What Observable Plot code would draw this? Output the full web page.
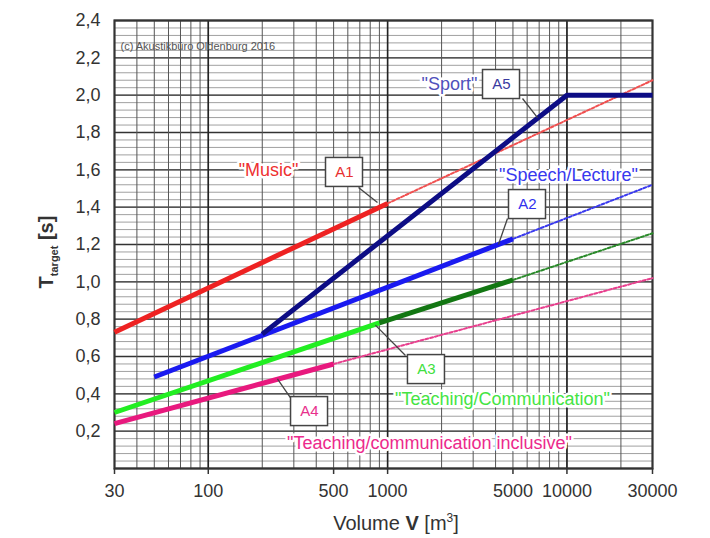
<!DOCTYPE html>
<html>
<head>
<meta charset="utf-8">
<script src="https://cdn.jsdelivr.net/npm/d3@7"></script>
<script src="https://cdn.jsdelivr.net/npm/@observablehq/plot@0.6"></script>
<style>
  body { margin: 0; background: #fff; }
  #chart { width: 710px; height: 538px; }
</style>
</head>
<body>
<div id="chart"></div>
<script>
// ---- data ----
const xTicks = [30, 100, 500, 1000, 5000, 10000, 30000];
const yTicks = [0.2, 0.4, 0.6, 0.8, 1.0, 1.2, 1.4, 1.6, 1.8, 2.0, 2.2, 2.4];

// solid segments (volume, T)
const a1Vol = [30, 1000];          const a1T = [0.73, 1.42];
const a2Vol = [50, 5000];          const a2T = [0.49, 1.23];
const a3aVol = [30, 900];          const a3aT = [0.30, 0.78];
const a3bVol = [900, 5000];        const a3bT = [0.78, 1.01];
const a4Vol = [30, 500];           const a4T = [0.24, 0.56];
const a5Vol = [200, 10000, 30000]; const a5T = [0.72, 2.0, 2.0];
// dotted extensions
const a1xVol = [1000, 30000]; const a1xT = [1.42, 2.08];
const a2xVol = [5000, 30000]; const a2xT = [1.23, 1.52];
const a3xVol = [5000, 30000]; const a3xT = [1.01, 1.26];
const a4xVol = [500, 30000];  const a4xT = [0.56, 1.02];

const zip = (v, t) => v.map((d, i) => ({V: d, T: t[i]}));

// grid
const vGrid = [];
for (const dec of [10, 100, 1000, 10000]) for (let k = 1; k <= 9; k++) { const v = k * dec; if (v >= 30 && v <= 30000) vGrid.push(v); }
const vMajor = [100, 1000, 10000];
const hMinor = d3.range(0, 2.4001, 0.04);
const hMajor = d3.range(0, 2.4001, 0.2);

// geometry helpers for annotation boxes (same scales as the plot)
const W = 710, H = 538, ML = 114, MR = 58, MT = 20, MB = 70;
const xs = d3.scaleLog([30, 30000], [ML, W - MR]);
const ys = d3.scaleLinear([0, 2.4], [H - MB, MT]);
function box(V, T, w = 37, h = 29) {
  const cx = xs(V), cy = ys(T);
  return {x1: xs.invert(cx - w / 2), x2: xs.invert(cx + w / 2), y1: ys.invert(cy + h / 2), y2: ys.invert(cy - h / 2)};
}

const boxes = [
  {label: "A1", V: 575, T: 1.586, color: "#e83030"},
  {label: "A5", V: 4317, T: 2.057, color: "#3a3aa0"},
  {label: "A2", V: 6027, T: 1.414, color: "#3030ee"},
  {label: "A3", V: 1647, T: 0.53, color: "#40e040"},
  {label: "A4", V: 367, T: 0.305, color: "#e8308c"}
].map(d => ({...d, ...box(d.V, d.T)}));

const leaders = [
  {V1: 688, T1: 1.505, V2: 878, T2: 1.425},
  {V1: 5652, T1: 1.982, V2: 6852, T2: 1.88},
  {V1: 4662, T1: 1.339, V2: 4150, T2: 1.2},
  {V1: 1258, T1: 0.605, V2: 855, T2: 0.768},
  {V1: 287, T1: 0.38, V2: 243, T2: 0.48}
];

const names = [
  {text: "\"Music\"", V: 217, T: 1.596, color: "#ee3030"},
  {text: "\"Sport\"", V: 2214, T: 2.057, color: "#5050bb"},
  {text: "\"Speech/Lecture\"", V: 10200, T: 1.57, color: "#3838ee"},
  {text: "\"Teaching/Communication\"", V: 4372, T: 0.37, color: "#44e444"},
  {text: "\"Teaching/communication inclusive\"", V: 1712, T: 0.134, color: "#ec2a8c"}
];

const solid = (v, t, color) => Plot.line(zip(v, t), {x: "V", y: "T", stroke: color, strokeWidth: 5, strokeLinecap: "butt"});
const dotted = (v, t, color) => Plot.line(zip(v, t), {x: "V", y: "T", stroke: color, strokeWidth: 2, strokeDasharray: "3,2"});

const plot = Plot.plot({
  width: W, height: H,
  marginLeft: ML, marginRight: MR, marginTop: MT, marginBottom: MB,
  style: {fontFamily: "'Liberation Sans', Arial, sans-serif", fontSize: "18px", color: "#333", background: "#fff"},
  x: {type: "log", domain: [30, 30000], axis: null},
  y: {domain: [0, 2.4]},
  marks: [
    Plot.ruleY(hMinor, {stroke: "#a0a0a0", strokeWidth: 1}),
    Plot.ruleY(hMajor, {stroke: "#333", strokeWidth: 1.3}),
    Plot.ruleX(vGrid, {stroke: "#555", strokeWidth: 1}),
    Plot.ruleX(vMajor, {stroke: "#222", strokeWidth: 1.6}),
    Plot.frame({stroke: "#333", strokeWidth: 2.2}),
    // x ticks and labels
    Plot.ruleX(xTicks, {x: d => d, y1: 0, y2: 0, insetBottom: -6, stroke: "#333", strokeWidth: 1.5}),
    Plot.text(xTicks, {x: d => d, y: 0, dy: 23, text: d => String(d), fontSize: 18, fill: "#333"}),
    Plot.axisY(yTicks, {anchor: "left", tickFormat: d => d.toFixed(1).replace(".", ","), label: null, tickSize: 0, tickPadding: 14, fontSize: 18}),
    Plot.text(["(c) Akustikbüro Oldenburg 2016"], {frameAnchor: "top-left", dx: 6, dy: 22, text: d => d, fill: "#555", fontSize: 11, textAnchor: "start"}),
    dotted(a1xVol, a1xT, "#f05050"),
    dotted(a2xVol, a2xT, "#3a3aee"),
    dotted(a3xVol, a3xT, "#2a8a2a"),
    dotted(a4xVol, a4xT, "#e8408e"),
    solid(a1Vol, a1T, "#ee2222"),
    solid(a4Vol, a4T, "#e8197e"),
    solid(a3aVol, a3aT, "#22ee22"),
    solid(a3bVol, a3bT, "#137713"),
    solid(a2Vol, a2T, "#1a1af0"),
    solid(a5Vol, a5T, "#0d0d85"),
    Plot.link(leaders, {x1: "V1", y1: "T1", x2: "V2", y2: "T2", stroke: "#444", strokeWidth: 1.3}),
    Plot.rect(boxes, {x1: "x1", x2: "x2", y1: "y1", y2: "y2", fill: "white", stroke: "#444", strokeWidth: 1.5}),
    Plot.text(boxes, {x: "V", y: "T", text: "label", fill: "color", fontSize: 15}),
    Plot.text(names, {x: "V", y: "T", text: "text", fill: "color", fontSize: 18, stroke: "white", strokeWidth: 5, paintOrder: "stroke"})
  ]
});

const svg = d3.select(plot);
// x axis title
const xl = svg.append("text").attr("x", 396).attr("y", 530).attr("text-anchor", "middle")
  .attr("font-size", 20).attr("fill", "#333").attr("font-family", "'Liberation Sans', Arial, sans-serif");
xl.append("tspan").text("Volume ");
xl.append("tspan").attr("font-weight", "bold").text("V");
xl.append("tspan").text(" [m");
xl.append("tspan").attr("font-size", 12).attr("dy", -8).text("3");
xl.append("tspan").attr("dy", 8).text("]");
// y axis title
const yl = svg.append("text").attr("transform", "translate(53,252) rotate(-90)").attr("text-anchor", "middle")
  .attr("font-size", 20).attr("fill", "#333").attr("font-weight", "bold").attr("font-family", "'Liberation Sans', Arial, sans-serif");
yl.append("tspan").text("T");
yl.append("tspan").attr("font-size", 11).attr("dy", 5).text("target");
yl.append("tspan").attr("dy", -5).text(" [s]");

document.getElementById("chart").appendChild(plot);
</script>
</body>
</html>
